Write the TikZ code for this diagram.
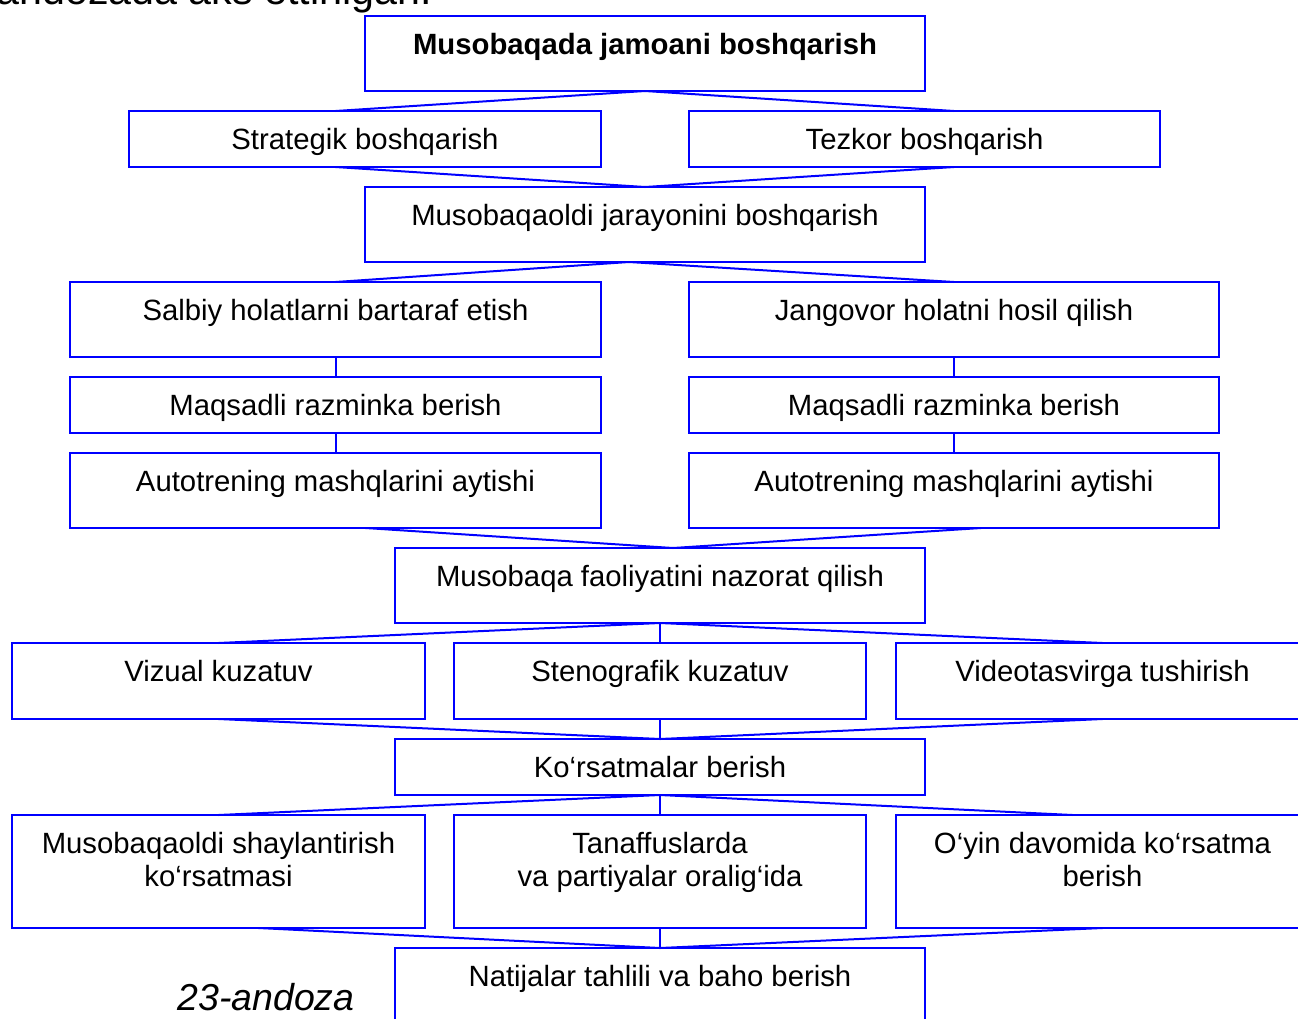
\documentclass[tikz,border=0pt]{standalone}
\usepackage{fontspec}
\setmainfont{Liberation Sans}
\usepackage{tikz}
\usetikzlibrary{positioning,calc}
\definecolor{frameblue}{HTML}{0000FF}
\newcommand{\boxfont}{\fontsize{14.65pt}{16.5pt}\selectfont}

\begin{document}
\begin{tikzpicture}[
  x=0.5pt, y=0.5pt,
  blk/.style={draw=frameblue, line width=1pt, outer sep=0pt, inner sep=0pt, align=center, font=\boxfont, text height=10.5pt, text depth=0pt, minimum height=28pt},
  tallblk/.style={blk, minimum height=37.5pt, text depth=9.5pt},
  rowblk/.style={blk, minimum height=38pt, text depth=10pt},
  lowblk/.style={blk, minimum height=56.5pt, text height=27pt, text depth=12pt},
  wide/.style={minimum width=280pt},
  half/.style={minimum width=235.75pt},
  col/.style={minimum width=265.25pt},
  third/.style={minimum width=206.25pt},
  link/.style={frameblue, line width=1pt}
]
  \useasboundingbox (0,0) rectangle (1298,-1019);

  \node[anchor=base west, inner sep=0pt, font=\fontsize{20.6pt}{24pt}\selectfont] (caption) at (-4,-4) {andozada aks ettirilgan.};

  \node[tallblk, wide] (lead) at (645,-53.5) {\textbf{Musobaqada jamoani boshqarish}};
  \node[blk, half, below=10pt of lead, xshift=-140pt] (strat) {Strategik boshqarish};
  \node[blk, half, right=44pt of strat] (tezkor) {Tezkor boshqarish};
  \node[tallblk, wide, below=10pt of strat, xshift=140pt] (prep) {Musobaqaoldi jarayonini boshqarish};

  \node[tallblk, col, below=10pt of prep, xshift=-154.75pt] (salbiy) {Salbiy holatlarni bartaraf etish};
  \node[tallblk, col, right=44pt of salbiy] (jangovor) {Jangovor holatni hosil qilish};
  \node[blk, col, below=10pt of salbiy] (warmL) {Maqsadli razminka berish};
  \node[blk, col, below=10pt of jangovor] (warmR) {Maqsadli razminka berish};
  \node[tallblk, col, below=10pt of warmL] (autoL) {Autotrening mashqlarini aytishi};
  \node[tallblk, col, below=10pt of warmR] (autoR) {Autotrening mashqlarini aytishi};

  \node[tallblk, minimum width=265pt, below=10pt of autoL, xshift=162.25pt] (nazorat) {Musobaqa faoliyatini nazorat qilish};
  \node[rowblk, third, below=10pt of nazorat] (steno) {Stenografik kuzatuv};
  \node[rowblk, third, left=14.5pt of steno] (vizual) {Vizual kuzatuv};
  \node[rowblk, third, right=15pt of steno] (video) {Videotasvirga tushirish};

  \node[blk, minimum width=265pt, below=10pt of steno] (korsat) {Ko‘rsatmalar berish};
  \node[lowblk, third, below=10pt of korsat] (tanaf) {Tanaffuslarda\\va partiyalar oralig‘ida};
  \node[lowblk, third, left=14.5pt of tanaf] (shay) {Musobaqaoldi shaylantirish\\ko‘rsatmasi};
  \node[lowblk, third, right=15pt of tanaf] (oyin) {O‘yin davomida ko‘rsatma\\berish};
  \node[tallblk, minimum width=265pt, below=10pt of tanaf] (natija) {Natijalar tahlili va baho berish};

  \node[anchor=base west, inner sep=0pt, font=\fontsize{18.75pt}{22pt}\selectfont\itshape] (figno) at (177,-1010) {23-andoza};

  % fork points off the box centres
  \coordinate (prepfork) at ($(prep.south)+(-8pt,0)$);
  \coordinate (nazfork) at ($(nazorat.north)+(6.5pt,0)$);

  \draw[link] (lead.south) -- (strat.north -| salbiy);
  \draw[link] (lead.south) -- (tezkor.north -| jangovor);
  \draw[link] (strat.south -| salbiy) -- (prep.north);
  \draw[link] (tezkor.south -| jangovor) -- (prep.north);

  \draw[link] (prepfork) -- (salbiy.north);
  \draw[link] (prepfork) -- (jangovor.north);
  \draw[link] (salbiy.south) -- (warmL.north);
  \draw[link] (warmL.south) -- (autoL.north);
  \draw[link] (jangovor.south) -- (warmR.north);
  \draw[link] (warmR.south) -- (autoR.north);
  \draw[link] ($(autoL.south)+(15pt,0)$) -- (nazfork);
  \draw[link] ($(autoR.south)+(13.5pt,0)$) -- (nazfork);

  \draw[link] (nazorat.south) -- (vizual.north);
  \draw[link] (nazorat.south) -- (steno.north);
  \draw[link] (nazorat.south) -- (video.north);
  \draw[link] (vizual.south) -- (korsat.north);
  \draw[link] (steno.south) -- (korsat.north);
  \draw[link] (video.south) -- (korsat.north);

  \draw[link] (korsat.south) -- (shay.north);
  \draw[link] (korsat.south) -- (tanaf.north);
  \draw[link] (korsat.south) -- ($(oyin.north)+(-15pt,0)$);
  \draw[link] ($(shay.south)+(20pt,0)$) -- (natija.north);
  \draw[link] (tanaf.south) -- (natija.north);
  \draw[link] (oyin.south) -- (natija.north);
\end{tikzpicture}
\end{document}
